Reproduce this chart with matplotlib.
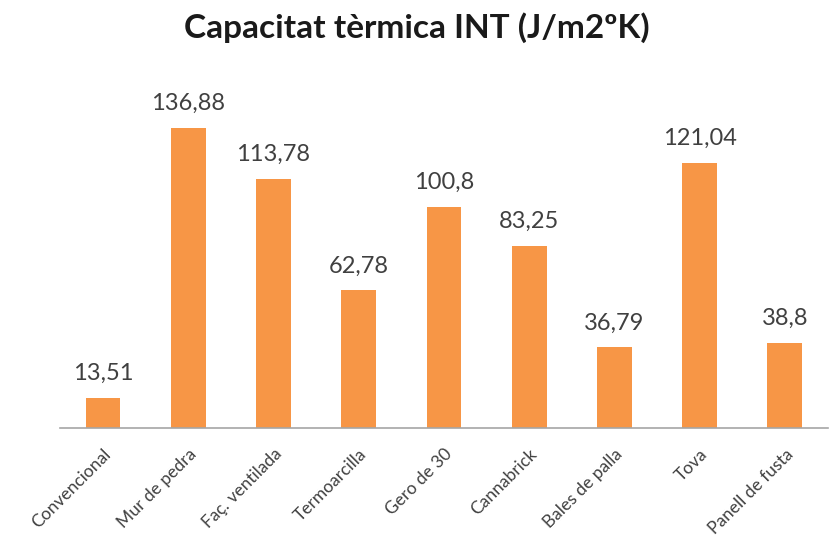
import matplotlib
matplotlib.use("Agg")
import matplotlib.pyplot as plt

categories = ["Convencional", "Mur de pedra", "Faç. ventilada", "Termoarcilla",
              "Gero de 30", "Cannabrick", "Bales de palla", "Tova", "Panell de fusta"]
values = [13.51, 136.88, 113.78, 62.78, 100.8, 83.25, 36.79, 121.04, 38.8]
value_labels = ["13,51", "136,88", "113,78", "62,78", "100,8", "83,25", "36,79", "121,04", "38,8"]

plt.rcParams['font.family'] = ['Lato', 'DejaVu Sans']

fig = plt.figure(figsize=(8.33, 5.45), dpi=100)
ax = fig.add_axes([0.0725, 0.2147, 0.921, 0.643])

x = range(len(categories))
bars = ax.bar(x, values, width=0.41, color="#F79646", zorder=2)

for xi, v, lab in zip(x, values, value_labels):
    ax.annotate(lab, (xi, v), xytext=(0, 13), textcoords="offset points",
                ha="center", va="baseline", fontsize=17, color="#404040")

ax.set_xlim(-0.5, len(categories) - 0.5)
ax.set_ylim(0, 160)
ax.set_yticks([])
ax.set_xticks(list(x))
ax.set_xticklabels(categories, rotation=45, ha="right", rotation_mode="anchor",
                   fontsize=12.5, color="#404040")
ax.tick_params(axis="x", length=0, pad=13)
for s in ["top", "right", "left"]:
    ax.spines[s].set_visible(False)
ax.spines["bottom"].set_color("#A6A6A6")
ax.spines["bottom"].set_linewidth(1.2)

fig.text(0.5, 0.95, "Capacitat tèrmica INT (J/m2ºK)", ha="center", va="center",
         fontsize=24, fontweight="bold", color="#1a1a1a")

fig.savefig("out.png", dpi=100)
